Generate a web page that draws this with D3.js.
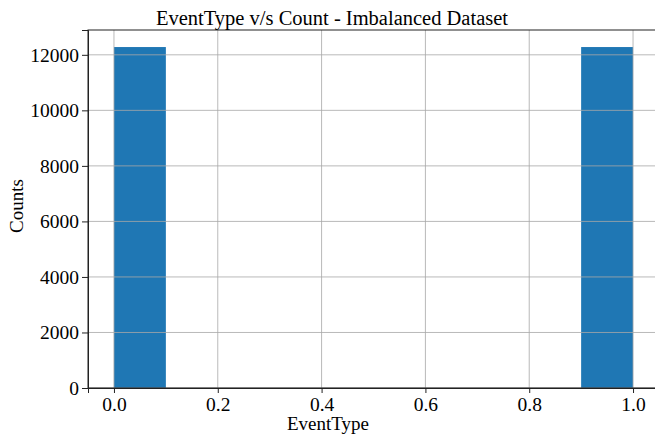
<!DOCTYPE html>
<html>
<head>
<meta charset="utf-8">
<script src="https://cdn.jsdelivr.net/npm/d3@7"></script>
<style>
  body { margin: 0; background: #fff; }
  svg text { font-family: "Liberation Serif", "Times New Roman", serif; fill: #000; }
</style>
</head>
<body>
<div id="chart"></div>
<script>
// Histogram of EventType, 10 bins between 0 and 1
const binEdges = [0.0, 0.1, 0.2, 0.3, 0.4, 0.5, 0.6, 0.7, 0.8, 0.9, 1.0];
const binCounts = [12280, 0, 0, 0, 0, 0, 0, 0, 0, 12280];
const xTicks = [0.0, 0.2, 0.4, 0.6, 0.8, 1.0];
const yTicks = [0, 2000, 4000, 6000, 8000, 10000, 12000];

const width = 655, height = 440;
const margin = { top: 30, right: -4, bottom: 52, left: 88 };

const svg = d3.select("#chart")
    .append("svg")
    .attr("width", width)
    .attr("height", height);

const plotW = width - margin.left - margin.right;
const plotH = height - margin.top - margin.bottom;

// matplotlib style 5% padding on the x range
const x = d3.scaleLinear()
    .domain([-0.05, 1.05])
    .range([margin.left, margin.left + plotW]);

const yMax = d3.max(binCounts) * 1.05;
const y = d3.scaleLinear()
    .domain([0, yMax])
    .range([margin.top + plotH, margin.top]);

const bins = binCounts.map((c, i) => ({ x0: binEdges[i], x1: binEdges[i + 1], count: c }));

// bars
svg.append("g")
    .selectAll("rect")
    .data(bins.filter(d => d.count > 0))
    .enter()
    .append("rect")
    .attr("x", d => x(d.x0))
    .attr("y", d => y(d.count))
    .attr("width", d => x(d.x1) - x(d.x0))
    .attr("height", d => y(0) - y(d.count))
    .attr("fill", "#1f77b4");

// grid, drawn over the bars like the original
const grid = svg.append("g")
    .attr("stroke", "#a8a8a8")
    .attr("stroke-opacity", 0.8)
    .attr("stroke-width", 1);

grid.selectAll(".vg")
    .data(xTicks)
    .enter()
    .append("line")
    .attr("x1", d => x(d)).attr("x2", d => x(d))
    .attr("y1", margin.top).attr("y2", margin.top + plotH);

grid.selectAll(".hg")
    .data(yTicks)
    .enter()
    .append("line")
    .attr("x1", margin.left).attr("x2", margin.left + plotW)
    .attr("y1", d => y(d)).attr("y2", d => y(d));

// frame
svg.append("rect")
    .attr("x", margin.left)
    .attr("y", margin.top)
    .attr("width", plotW)
    .attr("height", plotH)
    .attr("fill", "none")
    .attr("stroke", "#222")
    .attr("stroke-width", 1);

// axes
const xAxis = svg.append("g")
    .attr("transform", `translate(0, ${margin.top + plotH})`)
    .call(d3.axisBottom(x).tickValues(xTicks).tickFormat(d3.format(".1f")).tickSize(5).tickPadding(4));

const yAxis = svg.append("g")
    .attr("transform", `translate(${margin.left}, 0)`)
    .call(d3.axisLeft(y).tickValues(yTicks).tickFormat(d3.format("d")).tickSize(6).tickPadding(3));

[xAxis, yAxis].forEach(a => {
    a.select(".domain").attr("stroke", "#222");
    a.selectAll(".tick line").attr("stroke", "#222");
    a.selectAll(".tick text")
        .style("font-family", "'Liberation Serif', serif")
        .style("font-size", "19.5px");
});

// labels
svg.append("text")
    .attr("x", 332)
    .attr("y", 25)
    .attr("text-anchor", "middle")
    .style("font-size", "20.5px")
    .text("EventType v/s Count - Imbalanced Dataset");

svg.append("text")
    .attr("x", 328)
    .attr("y", 430)
    .attr("text-anchor", "middle")
    .style("font-size", "19px")
    .text("EventType");

svg.append("text")
    .attr("transform", "translate(23, 206) rotate(-90)")
    .attr("text-anchor", "middle")
    .style("font-size", "19px")
    .text("Counts");
</script>
</body>
</html>
